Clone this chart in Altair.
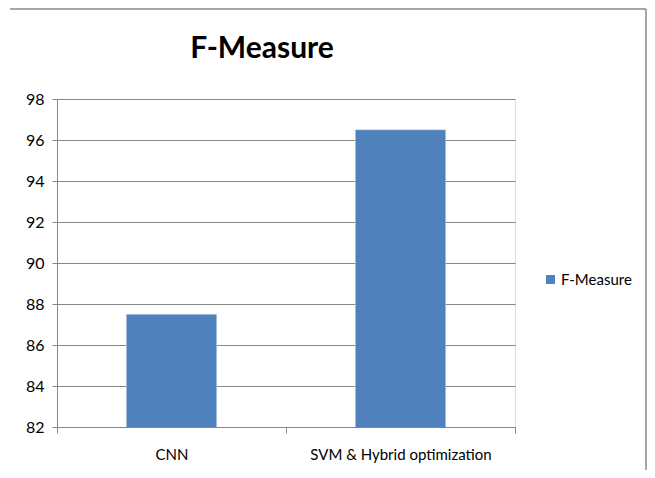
import altair as alt
import pandas as pd

categories = ["CNN", "SVM & Hybrid optimization"]
values = [87.5, 96.5]
series = ["F-Measure", "F-Measure"]
y_ticks = [82, 84, 86, 88, 90, 92, 94, 96, 98]

df = pd.DataFrame({"Method": categories, "Value": values, "Series": series})

FONT = "Lato, DejaVu Sans, sans-serif"

bars = alt.Chart(df).mark_bar(color="#4F81BD", stroke="#dbe5f1", strokeWidth=0.5, clip=True,
                              width=alt.RelativeBandSize(0.395)).encode(
    x=alt.X("Method:N", sort=categories, title=None,
            scale=alt.Scale(paddingInner=0, paddingOuter=0),
            axis=alt.Axis(labelAngle=0, labelFontSize=15, labelColor="#000000",
                          labelFont=FONT, tickBand="extent", tickSize=6, labelLimit=0,
                          tickColor="#868686", domainColor="#868686",
                          labelPadding=14, grid=False)),
    y=alt.Y("Value:Q", title=None,
            scale=alt.Scale(domain=[82, 98], nice=False, zero=False),
            axis=alt.Axis(values=y_ticks, labelFontSize=16, labelColor="#000000",
                          labelFont=FONT, tickSize=5, tickColor="#868686",
                          domainColor="#868686", gridColor="#868686",
                          gridWidth=1, labelPadding=8)),
    color=alt.Color("Series:N", scale=alt.Scale(range=["#4F81BD"]),
                    legend=alt.Legend(title=None, orient="none", legendX=486, legendY=173,
                                      symbolType="square", symbolSize=80,
                                      labelFontSize=15, labelFont=FONT, labelOffset=3,
                                      labelColor="#000000", symbolStrokeWidth=0)),
)

# chart frame (top and right edges, as in the reference)
border_top = alt.Chart(df).mark_rule(color="#a0a0a0", strokeWidth=1.5).encode(
    x=alt.value(-47), x2=alt.value(589), y=alt.value(-90)
)
border_right = alt.Chart(df).mark_rule(color="#a0a0a0", strokeWidth=1.5).encode(
    x=alt.value(589), y=alt.value(-90), y2=alt.value(372)
)

chart = alt.layer(bars, border_top, border_right).properties(
    width=458,
    height=328,
    title=alt.TitleParams("F-Measure", fontSize=30, fontWeight="bold", font=FONT,
                          color="#000000", anchor="middle", dx=-24, offset=0, dy=56),
    padding={"left": 49, "top": 91, "right": 132, "bottom": 43},
    autosize=alt.AutoSizeParams(type="none"),
).configure_view(stroke=None).configure(background="#ffffff")

chart.save("out.html", embed_options={"renderer": "svg", "actions": False})
